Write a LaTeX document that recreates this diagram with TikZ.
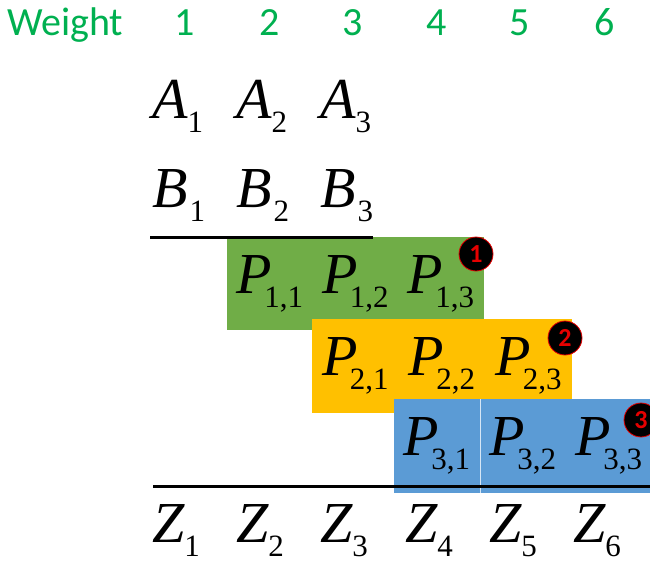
\documentclass[tikz,border=0pt]{standalone}
\usepackage{fontspec}
\newfontfamily\tms{LiberationSerif}[Extension=.ttf, UprightFont=*-Regular, ItalicFont=*-Italic, BoldFont=*-Bold]
\newfontfamily\calib{Carlito}
\definecolor{wgreen}{RGB}{0,176,80}
\definecolor{cgreen}{RGB}{112,173,71}
\definecolor{corange}{RGB}{255,192,0}
\definecolor{cblue}{RGB}{91,155,213}
\definecolor{cred}{RGB}{230,0,0}
\newcommand{\symb}[3]{{\tms\fontsize{58}{58}\selectfont\itshape #1}\kern#3pt\raisebox{-14pt}{\tms\fontsize{31}{31}\selectfont #2}}
\begin{document}
\begin{tikzpicture}[x=1pt,y=-1pt,
  wlab/.style={font=\calib\fontsize{40}{40}\selectfont, text=wgreen, inner sep=0pt},
  sym/.style={inner sep=0pt, anchor=base west},
  cellG/.style={fill=cgreen, minimum width=86pt, minimum height=93pt, inner sep=0pt},
  cellO/.style={fill=corange, minimum width=87pt, minimum height=94pt, inner sep=0pt},
  cellB/.style={fill=cblue, minimum width=86pt, minimum height=94pt, inner sep=0pt},
  badge/.style={circle, fill=black, draw=cred, line width=0.8pt, minimum size=34pt, inner sep=0pt, text=cred, font=\calib\bfseries\fontsize{26}{26}\selectfont},
  rule/.style={line width=3pt, black}]
\useasboundingbox (0,0) rectangle (650,562);
\clip (0,0) rectangle (650,562);
% weight header
\node[wlab, anchor=base west] (w) at (7,35) {Weight};
\node[wlab, anchor=base] (w1) at (185,35) {1};
\node[wlab, anchor=base] (w2) at (270,35) {2};
\node[wlab, anchor=base] (w3) at (353,35) {3};
\node[wlab, anchor=base] (w4) at (437,35) {4};
\node[wlab, anchor=base] (w5) at (520,35) {5};
\node[wlab, anchor=base] (w6) at (605,35) {6};
% A row
\node[sym] (a1) at (152,118) {\symb{A}{1}{0}};
\node[sym] (a2) at (236,118) {\symb{A}{2}{0}};
\node[sym] (a3) at (320,118) {\symb{A}{3}{0}};
% B row
\node[sym] (b1) at (152,207) {\symb{B}{1}{2}};
\node[sym] (b2) at (236,207) {\symb{B}{2}{2}};
\node[sym] (b3) at (320,207) {\symb{B}{3}{2}};
% green partial product
\node[cellG] (p11) at (270,283.5) {\symb{P}{1,1}{-8}};
\node[cellG] (p12) at (355.5,283.5) {\symb{P}{1,2}{-8}};
\node[cellG] (p13) at (441,283.5) {\symb{P}{1,3}{-8}};
% orange
\node[cellO] (p21) at (355.5,366) {\symb{P}{2,1}{-8}};
\node[cellO] (p22) at (442,366) {\symb{P}{2,2}{-8}};
\node[cellO] (p23) at (528.5,366) {\symb{P}{2,3}{-8}};
% blue
\node[cellB] (p31) at (437,446) {\symb{P}{3,1}{-8}};
\node[cellB] (p32) at (523,446) {\symb{P}{3,2}{-8}};
\node[cellB] (p33) at (609,446) {\symb{P}{3,3}{-8}};
\draw[white!75!cblue, line width=0.7pt] (p31.north east) -- (p31.south east);
% rules
\coordinate (t0) at (150,237);
\coordinate (t1) at (373,237);
\draw[rule] (t0) -- (t1);
\coordinate (z0) at (153,486);
\coordinate (z1) at (652,486);
\draw[rule] (z0) -- (z1);
% badges
\node[badge] (c1) at (476,254) {1};
\node[badge] (c2) at (565,338) {2};
\node[badge] (c3) at (641,420) {3};
% Z row
\node[sym] (z1n) at (152,542) {\symb{Z}{1}{0}};
\node[sym] (z2n) at (236,542) {\symb{Z}{2}{0}};
\node[sym] (z3n) at (320,542) {\symb{Z}{3}{0}};
\node[sym] (z4n) at (405,542) {\symb{Z}{4}{0}};
\node[sym] (z5n) at (489,542) {\symb{Z}{5}{0}};
\node[sym] (z6n) at (573,542) {\symb{Z}{6}{0}};
\end{tikzpicture}
\end{document}
